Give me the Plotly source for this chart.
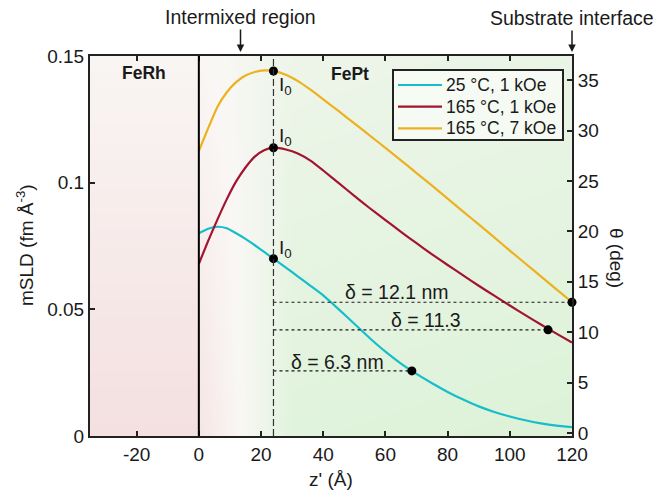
import numpy as np
import plotly.graph_objects as go

# ---------------- data ----------------
z_grid = [0, 3, 6, 9, 12, 15, 18, 21, 24, 28, 32, 36, 40, 45, 50, 55, 60, 65,
          70, 75, 80, 85, 90, 95, 100, 105, 110, 115, 120]
msld_25C_1kOe = [0.0800, 0.0818, 0.0826, 0.0820, 0.0800, 0.0778, 0.0753, 0.0727,
                 0.0700, 0.0665, 0.0628, 0.0592, 0.0555, 0.0500, 0.0443, 0.0386,
                 0.0333, 0.0286, 0.0245, 0.0208, 0.0174, 0.0144, 0.0117, 0.0095,
                 0.0077, 0.0062, 0.0050, 0.0041, 0.0035]
msld_165C_1kOe = [0.0680, 0.0770, 0.0855, 0.0935, 0.1005, 0.1060, 0.1103, 0.1128,
                  0.1138, 0.1131, 0.1114, 0.1086, 0.1048, 0.0998, 0.0948, 0.0899,
                  0.0852, 0.0806, 0.0761, 0.0717, 0.0675, 0.0634, 0.0593, 0.0554,
                  0.0515, 0.0477, 0.0440, 0.0404, 0.0369]
msld_165C_7kOe = [0.1125, 0.1215, 0.1300, 0.1357, 0.1397, 0.1423, 0.1437, 0.1443,
                  0.1441, 0.1426, 0.1400, 0.1366, 0.1329, 0.1282, 0.1234, 0.1186,
                  0.1137, 0.1088, 0.1038, 0.0988, 0.0937, 0.0886, 0.0835, 0.0784,
                  0.0732, 0.0681, 0.0630, 0.0579, 0.0528]
series_names = ["25 °C, 1 kOe", "165 °C, 1 kOe", "165 °C, 7 kOe"]
series_colors = ["#17BDC9", "#A2142F", "#EDB120"]

i0_z = 24.0
i0_vals = [0.0700, 0.1138, 0.1441]
decay_z = [68.5, 112.3, 120.0]
decay_vals = [0.0257, 0.0419, 0.0528]
delta_labels = ["δ = 6.3 nm", "δ = 11.3", "δ = 12.1 nm"]
delta_label_pos = [(44.5, 0.0293), (73.0, 0.0458), (63.6, 0.0570)]
i0_label_pos = [(25.0, 0.0740), (25.0, 0.1180), (25.0, 0.1381)]

x_ticks = [-20, 0, 20, 40, 60, 80, 100, 120]
x_ticktext = ["-20", "0", "20", "40", "60", "80", "100", "120"]
y_ticks = [0, 0.05, 0.1, 0.15]
y_ticktext = ["0", "0.05", "0.1", "0.15"]
theta_ticks = [0, 5, 10, 15, 20, 25, 30, 35]

FONT = "Liberation Sans, Arial, sans-serif"
INK = "#1a1a1a"
FS = 19

# plot-area geometry in pixels (for placing the hand-drawn legend)
W, H = 669, 494
ML, MR, MT, MB = 90, 97, 56, 58
PW, PH = W - ML - MR, H - MT - MB


def px2paper(px, py):
    return (px - ML) / PW, (H - MB - py) / PH


fig = go.Figure()

# ---------------- background gradient (decoration) ----------------
bg_x = np.arange(-35, 120.5, 1.0)
bg_y = np.linspace(0, 0.15, 31)
Z = []
for yv in bg_y:
    fy = 1 - yv / 0.15
    p = 0.06 + 0.8 * fy
    row = []
    for xv in bg_x:
        if xv < 0:
            row.append(-p)
        else:
            t = min(xv / 30.0, 1.0)
            g = 0.35 + 0.45 * fy + 0.15 * xv / 120.0
            row.append(-0.75 * p * (1 - t) + g * t)
    Z.append(row)
fig.add_trace(go.Heatmap(
    x=bg_x, y=bg_y, z=Z, zmin=-1, zmax=1, zsmooth="best",
    colorscale=[[0, "#f3dcdc"], [0.5, "#f9f7f5"], [1, "#dbf2d7"]],
    showscale=False, hoverinfo="skip"))

# ---------------- curves ----------------
for name, vals, col in zip(series_names,
                           [msld_25C_1kOe, msld_165C_1kOe, msld_165C_7kOe],
                           series_colors):
    fig.add_trace(go.Scatter(x=z_grid, y=vals, mode="lines", name=name,
                             line=dict(color=col, width=2.2, shape="spline", smoothing=0.5),
                             cliponaxis=False, showlegend=False))

# dotted decay-length lines
for zd, vd in zip(decay_z, decay_vals):
    fig.add_trace(go.Scatter(x=[i0_z, zd], y=[vd, vd], mode="lines",
                             line=dict(color=INK, width=1.2, dash="dot"),
                             showlegend=False, hoverinfo="skip"))

# dots
fig.add_trace(go.Scatter(x=[i0_z] * len(i0_vals), y=i0_vals, mode="markers",
                         marker=dict(color="black", size=9), showlegend=False,
                         cliponaxis=False))
fig.add_trace(go.Scatter(x=decay_z, y=decay_vals, mode="markers",
                         marker=dict(color="black", size=9), showlegend=False,
                         cliponaxis=False))

# dummy trace for right axis
fig.add_trace(go.Scatter(x=[None], y=[None], yaxis="y2", showlegend=False))

# vertical lines
fig.add_shape(type="line", x0=0, x1=0, y0=0, y1=0.15, xref="x", yref="y",
              line=dict(color="black", width=2))
fig.add_shape(type="line", x0=i0_z, x1=i0_z, y0=0, y1=0.15, xref="x", yref="y",
              line=dict(color="#333333", width=1.2, dash="7px,3px"))

ann = []

# ---------------- legend (drawn by hand for exact MATLAB-like spacing) ----------------
bx0, by1 = px2paper(393, 70)
bx1, by0 = px2paper(563, 140)
fig.add_shape(type="rect", xref="paper", yref="paper", x0=bx0, x1=bx1, y0=by0, y1=by1,
              line=dict(color="#222222", width=2), fillcolor="rgba(255,255,255,0.55)")
row_py = [85, 106.7, 128.3]
lx0, _ = px2paper(398, 0)
lx1, _ = px2paper(442, 0)
tx, _ = px2paper(444, 0)
for name, col, py in zip(series_names, series_colors, row_py):
    _, ry = px2paper(0, py)
    fig.add_shape(type="line", xref="paper", yref="paper", x0=lx0, x1=lx1, y0=ry, y1=ry,
                  line=dict(color=col, width=2.2))
    ann.append(dict(x=tx, y=ry, xref="paper", yref="paper", text=name, showarrow=False,
                    xanchor="left", yanchor="middle",
                    font=dict(size=17.5, color=INK, family=FONT)))

for (xx, yy) in i0_label_pos:
    ann.append(dict(x=xx, y=yy, xref="x", yref="y", text="I<sub>0</sub>",
                    showarrow=False, xanchor="left", yanchor="middle",
                    font=dict(size=FS, color=INK, family=FONT)))
for lab, (xx, yy) in zip(delta_labels, delta_label_pos):
    ann.append(dict(x=xx, y=yy, xref="x", yref="y", text=lab, showarrow=False,
                    xanchor="center", yanchor="middle",
                    font=dict(size=FS + 0.5, color=INK, family=FONT)))
ann.append(dict(x=-17.6, y=0.1431, xref="x", yref="y", text="<b>FeRh</b>",
                showarrow=False, xanchor="center", yanchor="middle",
                font=dict(size=FS - 1.5, color=INK, family=FONT)))
ann.append(dict(x=48.7, y=0.1429, xref="x", yref="y", text="<b>FePt</b>",
                showarrow=False, xanchor="center", yanchor="middle",
                font=dict(size=FS - 1.5, color=INK, family=FONT)))
# top labels with arrows
ann.append(dict(x=13.4, y=1.0105, xref="x", yref="paper", text="Intermixed region",
                showarrow=True, arrowhead=2, arrowsize=1, arrowwidth=1.5,
                arrowcolor=INK, ax=0, ay=-35,
                font=dict(size=FS + 0.5, color=INK, family=FONT)))
ann.append(dict(x=120, y=1.0105, xref="x", yref="paper", text="Substrate interface",
                showarrow=True, arrowhead=2, arrowsize=1, arrowwidth=1.5,
                arrowcolor=INK, ax=0, ay=-34,
                font=dict(size=FS + 0.5, color=INK, family=FONT)))
# axis titles
ax_t, ay_t = px2paper(25, 245)
ann.append(dict(x=ax_t, y=ay_t, xref="paper", yref="paper",
                text="mSLD (fm Å<sup>-3</sup>)", textangle=-90, showarrow=False,
                xanchor="center", yanchor="middle",
                font=dict(size=FS, color=INK, family=FONT)))
ax_t, ay_t = px2paper(617, 258)
ann.append(dict(x=ax_t, y=ay_t, xref="paper", yref="paper",
                text="θ (deg)", textangle=90, showarrow=False,
                xanchor="center", yanchor="middle",
                font=dict(size=FS, color=INK, family=FONT)))
ax_t, ay_t = px2paper(331, 480)
ann.append(dict(x=ax_t, y=ay_t, xref="paper", yref="paper",
                text="z' (Å)", showarrow=False, xanchor="center", yanchor="middle",
                font=dict(size=FS, color=INK, family=FONT)))

axis_common = dict(showgrid=False, zeroline=False, showline=True, linewidth=2,
                   linecolor="#222222", ticks="inside", ticklen=5, tickwidth=1.5,
                   tickcolor="#222222",
                   tickfont=dict(size=FS, color=INK, family=FONT))

fig.update_layout(
    width=W, height=H,
    margin=dict(l=ML, r=MR, t=MT, b=MB),
    paper_bgcolor="white", plot_bgcolor="white",
    font=dict(family=FONT, size=FS, color=INK),
    xaxis=dict(range=[-35, 120], tickvals=x_ticks, ticktext=x_ticktext,
               mirror="ticks", **axis_common),
    yaxis=dict(range=[0, 0.15], tickvals=y_ticks, ticktext=y_ticktext, **axis_common),
    yaxis2=dict(range=[-0.3, 37.4], tickvals=theta_ticks, overlaying="y",
                side="right", **axis_common),
    annotations=ann,
    showlegend=False,
)

fig.write_html("out.html", config={"displayModeBar": False},
               post_script="document.body.style.margin='0';document.body.style.padding='0';")
